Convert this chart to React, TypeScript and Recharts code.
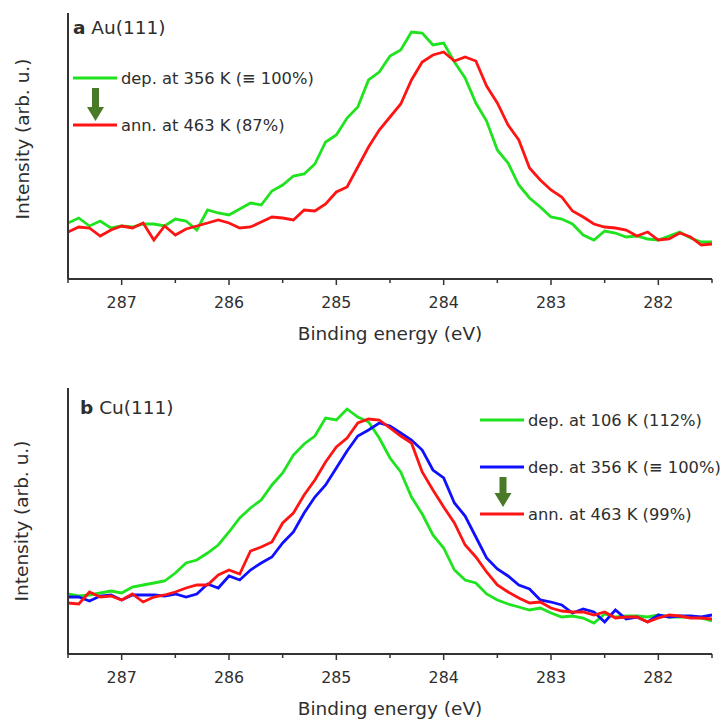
import { LineChart, Line, XAxis, YAxis } from "recharts";

const FONT = '"DejaVu Sans", Verdana, sans-serif';
const TEXT = "#2e2e2e";
const AXIS = "#333333";
const GREEN = "#1ee31e";
const RED = "#ff1414";
const BLUE = "#1010ff";
const ARROW = "#4a7a27";

// binding energy (eV), same grid for every spectrum
const energies = [
  287.5, 287.4, 287.3, 287.2, 287.1, 287.0, 286.9, 286.8, 286.7, 286.6,
  286.5, 286.4, 286.3, 286.2, 286.1, 286.0, 285.9, 285.8, 285.7, 285.6,
  285.5, 285.4, 285.3, 285.2, 285.1, 285.0, 284.9, 284.8, 284.7, 284.6,
  284.5, 284.4, 284.3, 284.2, 284.1, 284.0, 283.9, 283.8, 283.7, 283.6,
  283.5, 283.4, 283.3, 283.2, 283.1, 283.0, 282.9, 282.8, 282.7, 282.6,
  282.5, 282.4, 282.3, 282.2, 282.1, 282.0, 281.9, 281.8, 281.7, 281.6,
  281.5,
];

const xTicks = [287.5, 287, 286.5, 286, 285.5, 285, 284.5, 284, 283.5, 283, 282.5, 282, 281.5];

// a: Au(111)
const auDep356 = [
  56, 61, 53, 58, 51, 53, 52, 55, 55, 53,
  60, 58, 49, 69, 66, 64, 70, 76, 74, 88,
  94, 103, 105, 115, 137, 144, 161, 172, 199, 207,
  223, 229, 247, 246, 234, 236, 217, 201, 176, 158,
  129, 116, 94, 81, 72, 62, 60, 55, 44, 39,
  48, 46, 42, 43, 40, 39, 43, 47, 41, 37,
  37,
];
const auAnn463 = [
  47, 52, 51, 43, 49, 53, 51, 56, 39, 53,
  44, 50, 53, 56, 59, 56, 51, 52, 57, 62,
  61, 59, 69, 68, 75, 87, 92, 112, 132, 149,
  162, 175, 199, 217, 224, 227, 218, 222, 218, 193,
  176, 154, 139, 111, 99, 89, 82, 68, 62, 55,
  52, 51, 49, 43, 47, 39, 40, 46, 42, 34,
  35,
];
const auLegend = ["dep. at 356 K (\u2261 100%)", "ann. at 463 K (87%)"];

// b: Cu(111)
const cuDep106 = [
  60, 58, 59, 61, 63, 61, 67, 69, 71, 73,
  81, 91, 94, 101, 109, 122, 136, 146, 154, 169,
  181, 199, 210, 218, 236, 234, 245, 237, 232, 216,
  196, 182, 157, 140, 119, 106, 84, 74, 71, 60,
  54, 50, 47, 44, 46, 41, 37, 38, 36, 31,
  40, 37, 38, 38, 37, 39, 37, 37, 37, 36,
  33,
];
const cuDep356 = [
  57, 57, 53, 58, 59, 54, 59, 59, 59, 58,
  60, 57, 60, 70, 66, 78, 74, 84, 91, 97,
  111, 122, 141, 157, 169, 186, 203, 218, 224, 231,
  228, 221, 214, 204, 184, 176, 151, 138, 117, 96,
  85, 78, 69, 65, 54, 52, 49, 41, 45, 42,
  32, 44, 35, 37, 32, 39, 37, 38, 38, 37,
  39,
];
const cuAnn463 = [
  51, 50, 62, 57, 58, 54, 60, 52, 57, 59,
  62, 66, 69, 69, 79, 84, 80, 103, 107, 112,
  131, 141, 159, 174, 192, 207, 216, 231, 235, 234,
  226, 218, 211, 182, 164, 147, 131, 109, 97, 82,
  69, 62, 56, 51, 52, 46, 43, 42, 42, 39,
  42, 36, 37, 37, 32, 36, 39, 38, 36, 36,
  35,
];
const cuLegend = ["dep. at 106 K (112%)", "dep. at 356 K (\u2261 100%)", "ann. at 463 K (99%)"];

const auData = energies.map((energy, i) => ({
  energy,
  dep356: auDep356[i],
  ann463: auAnn463[i],
}));

const cuData = energies.map((energy, i) => ({
  energy,
  dep106: cuDep106[i],
  dep356: cuDep356[i],
  ann463: cuAnn463[i],
}));

// major ticks get a label, half-eV ticks only a short mark
const EnergyTick = (props: any) => {
  const { x, y, payload } = props;
  const major = Number.isInteger(payload.value);
  return (
    <g>
      <line x1={x} y1={y} x2={x} y2={y + (major ? 6 : 4)} stroke={AXIS} strokeWidth={1.5} />
      {major && (
        <text x={x} y={y + 29} textAnchor="middle" fontSize={15.8} fontFamily={FONT} fill={TEXT}>
          {payload.value}
        </text>
      )}
    </g>
  );
};

const xTitle = (props: any) => {
  const { x, y, width } = props.viewBox;
  return (
    <text x={x + width / 2} y={y + 61} textAnchor="middle" fontSize={18.5} fontFamily={FONT} fill={TEXT}>
      Binding energy (eV)
    </text>
  );
};

const yTitle = (baseX: number, shiftY: number) => (props: any) => {
  const { y, height } = props.viewBox;
  const cy = y + height / 2 + shiftY;
  return (
    <text
      transform={`translate(${baseX},${cy}) rotate(-90)`}
      textAnchor="middle"
      fontSize={18.5}
      fontFamily={FONT}
      fill={TEXT}
    >
      Intensity (arb. u.)
    </text>
  );
};

const DownArrow = ({ cx, top, headTop, tip }: { cx: number; top: number; headTop: number; tip: number }) => (
  <path
    d={`M${cx - 3.5},${top} H${cx + 3.5} V${headTop} H${cx + 8.5} L${cx},${tip} L${cx - 8.5},${headTop} H${cx - 3.5} Z`}
    fill={ARROW}
  />
);

const overlay = { position: "absolute" as const, left: 0, top: 0, pointerEvents: "none" as const };

export default function App() {
  return (
    <div
      style={{
        position: "absolute",
        left: 0,
        top: 0,
        width: 720,
        height: 719,
        overflow: "hidden",
        background: "#fff",
        fontFamily: FONT,
      }}
    >
      {/* a: Au(111) */}
      <div style={{ position: "absolute", left: 0, top: 0, width: 720, height: 345 }}>
        <LineChart width={720} height={345} data={auData} margin={{ top: 13, right: 8, bottom: 0, left: 0 }}>
          <XAxis
            type="number"
            dataKey="energy"
            domain={[281.5, 287.5]}
            allowDataOverflow
            reversed
            ticks={xTicks}
            interval={0}
            tickSize={0}
            tickMargin={0}
            tickLine={false}
            tick={<EnergyTick />}
            axisLine={{ stroke: AXIS, strokeWidth: 2 }}
            height={66}
            label={{ content: xTitle }}
          />
          <YAxis
            type="number"
            domain={[0, 266]}
            allowDataOverflow
            width={68}
            tick={false}
            tickLine={false}
            axisLine={{ stroke: AXIS, strokeWidth: 2 }}
            label={{ content: yTitle(29, -7) }}
          />
          <Line type="linear" dataKey="dep356" stroke={GREEN} strokeWidth={2.8} dot={false} isAnimationActive={false} />
          <Line type="linear" dataKey="ann463" stroke={RED} strokeWidth={2.8} dot={false} isAnimationActive={false} />
        </LineChart>
        <svg width={720} height={345} style={overlay}>
          <text x={73} y={34} fontSize={18.5} fontFamily={FONT} fill={TEXT}>
            <tspan fontWeight="bold">a</tspan> Au(111)
          </text>
          <line x1={73} x2={117} y1={78} y2={78} stroke={GREEN} strokeWidth={3} />
          <text x={121} y={84} fontSize={16.3} fontFamily={FONT} fill={TEXT}>{auLegend[0]}</text>
          <DownArrow cx={95.5} top={88} headTop={107} tip={121} />
          <line x1={73} x2={117} y1={125} y2={125} stroke={RED} strokeWidth={3} />
          <text x={121} y={131} fontSize={16.3} fontFamily={FONT} fill={TEXT}>{auLegend[1]}</text>
        </svg>
      </div>

      {/* b: Cu(111) */}
      <div style={{ position: "absolute", left: 0, top: 375, width: 720, height: 345 }}>
        <LineChart width={720} height={345} data={cuData} margin={{ top: 13, right: 8, bottom: 0, left: 0 }}>
          <XAxis
            type="number"
            dataKey="energy"
            domain={[281.5, 287.5]}
            allowDataOverflow
            reversed
            ticks={xTicks}
            interval={0}
            tickSize={0}
            tickMargin={0}
            tickLine={false}
            tick={<EnergyTick />}
            axisLine={{ stroke: AXIS, strokeWidth: 2 }}
            height={66}
            label={{ content: xTitle }}
          />
          <YAxis
            type="number"
            domain={[0, 266]}
            allowDataOverflow
            width={68}
            tick={false}
            tickLine={false}
            axisLine={{ stroke: AXIS, strokeWidth: 2 }}
            label={{ content: yTitle(28, 0) }}
          />
          <Line type="linear" dataKey="dep106" stroke={GREEN} strokeWidth={2.8} dot={false} isAnimationActive={false} />
          <Line type="linear" dataKey="dep356" stroke={BLUE} strokeWidth={2.8} dot={false} isAnimationActive={false} />
          <Line type="linear" dataKey="ann463" stroke={RED} strokeWidth={2.8} dot={false} isAnimationActive={false} />
        </LineChart>
        <svg width={720} height={345} style={overlay}>
          <text x={80} y={39} fontSize={18.5} fontFamily={FONT} fill={TEXT}>
            <tspan fontWeight="bold">b</tspan> Cu(111)
          </text>
          <line x1={480} x2={524} y1={45} y2={45} stroke={GREEN} strokeWidth={3} />
          <text x={528} y={51} fontSize={16.3} fontFamily={FONT} fill={TEXT}>{cuLegend[0]}</text>
          <line x1={480} x2={524} y1={92} y2={92} stroke={BLUE} strokeWidth={3} />
          <text x={528} y={98} fontSize={16.3} fontFamily={FONT} fill={TEXT}>{cuLegend[1]}</text>
          <DownArrow cx={503} top={102} headTop={118} tip={132} />
          <line x1={480} x2={524} y1={139} y2={139} stroke={RED} strokeWidth={3} />
          <text x={528} y={145} fontSize={16.3} fontFamily={FONT} fill={TEXT}>{cuLegend[2]}</text>
        </svg>
      </div>
    </div>
  );
}
